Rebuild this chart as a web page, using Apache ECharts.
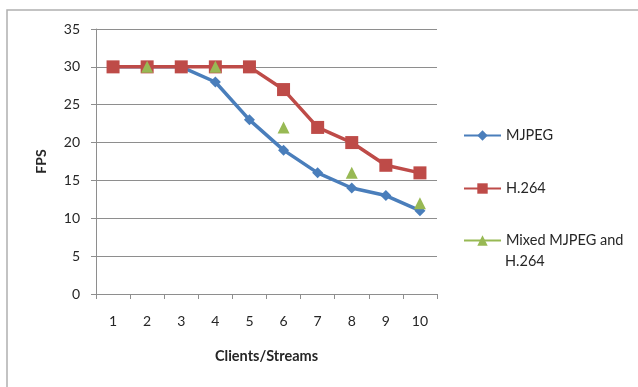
<!DOCTYPE html>
<html>
<head>
<meta charset="utf-8">
<script src="https://cdn.jsdelivr.net/npm/echarts@6/dist/echarts.min.js"></script>
<style>
  html, body { margin: 0; padding: 0; background: #fff; }
  #chart { width: 638px; height: 387px; }
</style>
</head>
<body>
<div id="chart"></div>
<script>
// Frame rate per number of concurrent clients/streams
const categories = ['1', '2', '3', '4', '5', '6', '7', '8', '9', '10'];
const mjpeg = [30, 30, 30, 28, 23, 19, 16, 14, 13, 11];
const h264 = [30, 30, 30, 30, 30, 27, 22, 20, 17, 16];
// mixed streams were only measured for even client counts
const mixed = [null, 30, null, 30, null, 22, null, 16, null, 12];
const seriesNames = ['MJPEG', 'H.264', 'Mixed MJPEG and H.264'];
const yTicks = { min: 0, max: 35, step: 5 };

const FONT = 'Lato';
const TEXT = '#262626';
const GRID = '#8e8e8e';

const chart = echarts.init(document.getElementById('chart'), null, { renderer: 'canvas' });

// one legend block per series so each entry can sit at its own height
function legendFor(name, top) {
  return {
    data: [name],
    left: 463,
    top: top,
    orient: 'vertical',
    padding: 0,
    itemWidth: 37,
    itemHeight: 13,
    selectedMode: false,
    textStyle: { fontFamily: FONT, fontSize: 14.5, color: TEXT }
  };
}

const mixedLegend = legendFor(seriesNames[2], 233);
// the long label wraps; its second line is drawn as a graphic text below
mixedLegend.formatter = 'Mixed MJPEG and';

chart.setOption({
  animation: false,
  backgroundColor: '#fff',
  graphic: [
    {
      type: 'rect',
      shape: { x: 7, y: 10, width: 700, height: 500 },
      style: { fill: 'none', stroke: '#b0b0b0', lineWidth: 1.5 },
      silent: true
    },
    {
      type: 'text',
      left: 505,
      top: 254,
      style: { text: 'H.264', font: '14.5px ' + FONT, fill: TEXT },
      silent: true
    }
  ],
  grid: { left: 96, right: 201, top: 29, bottom: 93 },
  legend: [
    legendFor(seriesNames[0], 128),
    legendFor(seriesNames[1], 181),
    mixedLegend
  ],
  xAxis: {
    type: 'category',
    data: categories,
    boundaryGap: true,
    name: 'Clients/Streams',
    nameLocation: 'middle',
    nameGap: 55,
    nameTextStyle: { fontFamily: FONT, fontSize: 14.5, fontWeight: 'bold', color: TEXT },
    axisLine: { lineStyle: { color: GRID, width: 1 } },
    axisTick: { show: true, length: 5, lineStyle: { color: GRID } },
    axisLabel: { margin: 20, fontFamily: FONT, fontSize: 14, color: TEXT },
    splitLine: { show: false }
  },
  yAxis: {
    type: 'value',
    min: yTicks.min,
    max: yTicks.max,
    interval: yTicks.step,
    name: 'FPS',
    nameLocation: 'middle',
    nameRotate: 90,
    nameGap: 48,
    nameTextStyle: { fontFamily: FONT, fontSize: 14, fontWeight: 'bold', color: TEXT },
    axisLine: { show: true, lineStyle: { color: GRID, width: 1 } },
    axisTick: { show: true, length: 5, lineStyle: { color: GRID } },
    axisLabel: { margin: 16, fontFamily: FONT, fontSize: 14, color: TEXT },
    splitLine: { show: true, lineStyle: { color: GRID, width: 1 } }
  },
  series: [
    {
      name: seriesNames[0],
      type: 'line',
      data: mjpeg,
      symbol: 'diamond',
      symbolSize: 11,
      showAllSymbol: true,
      color: '#4a7ebb',
      lineStyle: { width: 3.5, color: '#4a7ebb' },
      itemStyle: { color: '#4a7ebb' }
    },
    {
      name: seriesNames[1],
      type: 'line',
      data: h264,
      symbol: 'rect',
      symbolSize: 13,
      showAllSymbol: true,
      color: '#be4b48',
      lineStyle: { width: 3.5, color: '#be4b48' },
      itemStyle: { color: '#be4b48' }
    },
    {
      name: seriesNames[2],
      type: 'line',
      data: mixed,
      connectNulls: false,
      symbol: 'triangle',
      symbolSize: 12,
      showAllSymbol: true,
      color: '#98b954',
      lineStyle: { width: 3.5, color: '#98b954' },
      itemStyle: { color: '#98b954' }
    }
  ]
});
</script>
</body>
</html>
